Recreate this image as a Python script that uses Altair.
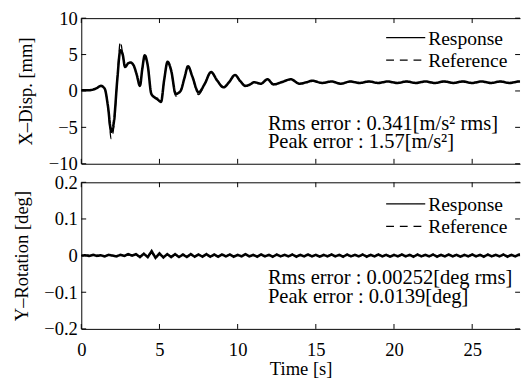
import altair as alt
import pandas as pd

# ---------------- data ----------------
series_names = ["Response", "Reference"]
x_ticks = [0, 5, 10, 15, 20, 25]
top_yticks = [-10, -5, 0, 5, 10]
bot_yticks = [-0.2, -0.1, 0, 0.1, 0.2]

# X-displacement panel (mm)
x_t = [0.0, 0.5, 1.0, 1.25, 1.5, 1.7, 1.92, 2.1, 2.3, 2.5,
       2.65, 2.8, 3.0, 3.15, 3.35, 3.55, 3.75, 3.9, 4.06, 4.25,
       4.48, 4.7, 4.9, 5.1, 5.3, 5.52, 5.75, 6.04, 6.35, 6.6,
       6.83, 7.1, 7.5, 7.9, 8.3, 8.7, 9.1, 9.45, 9.83, 10.15,
       10.5, 10.8, 11.05, 11.5, 11.9, 12.3, 12.8, 13.4, 13.95, 14.4,
       14.8, 15.4, 16.0, 16.6, 17.2, 17.8, 18.4, 19.0, 19.6, 20.2,
       20.8, 21.4, 22.0, 22.6, 23.2, 23.8, 24.4, 25.0, 25.6, 26.2,
       26.8, 27.4, 28.0, 28.6]
x_resp = [0.1, 0.1, 0.4, 0.7, 0.3, -2.0, -5.6, -4.0, 1.5, 5.6,
          5.0, 3.3, 3.8, 3.9, 3.5, 2.2, 0.7, 3.0, 4.9, 3.5,
          -0.4, -0.9, -1.2, -1.5, 1.5, 4.0, 2.8, -0.4, 0.0, 1.8,
          3.4, 2.0, -0.2, 1.0, 2.6, 1.4, 0.5, 1.2, 2.2, 1.4,
          0.7, 0.9, 1.2, 1.0, 1.6, 0.9, 1.2, 1.6, 1.0, 1.2,
          1.4, 1.1, 1.3, 1.0, 1.3, 1.1, 1.3, 1.1, 1.3, 1.1,
          1.3, 1.1, 1.3, 1.1, 1.3, 1.1, 1.3, 1.1, 1.3, 1.1,
          1.3, 1.1, 1.3, 1.2]
x_ref = [0.1, 0.1, 0.4, 0.7, 0.3, -2.0, -6.6, -4.5, 1.5, 6.8,
         5.0, 3.3, 3.8, 3.9, 3.5, 2.2, 0.7, 3.0, 4.6, 3.5,
         -0.4, -0.9, -1.0, -1.5, 1.5, 4.0, 2.8, -0.7, 0.0, 1.8,
         3.4, 2.0, -0.5, 1.0, 2.6, 1.4, 0.5, 1.2, 2.2, 1.4,
         0.7, 0.9, 1.2, 1.0, 1.6, 0.9, 1.2, 1.6, 1.0, 1.2,
         1.4, 1.1, 1.3, 1.0, 1.3, 1.1, 1.3, 1.1, 1.3, 1.1,
         1.3, 1.1, 1.3, 1.1, 1.3, 1.1, 1.3, 1.1, 1.3, 1.1,
         1.3, 1.1, 1.3, 1.2]

# Y-rotation panel (deg)
y_t = [0.0, 0.25, 0.5, 0.75, 1.0, 1.25, 1.5, 1.75, 2.0, 2.25,
       2.5, 2.75, 3.0, 3.25, 3.5, 3.75, 4.0, 4.25, 4.5, 4.75,
       5.0, 5.25, 5.5, 5.75, 6.0, 6.25, 6.5, 6.75, 7.0, 7.25,
       7.5, 7.75, 8.0, 8.25, 8.5, 8.75, 9.0, 9.25, 9.5, 9.75,
       10.0, 10.25, 10.5, 10.75, 11.0, 11.25, 11.5, 11.75, 12.0, 12.25,
       12.5, 12.75, 13.0, 13.25, 13.5, 13.75, 14.0, 14.25, 14.5, 14.75,
       15.0, 15.25, 15.5, 15.75, 16.0, 16.25, 16.5, 16.75, 17.0, 17.25,
       17.5, 17.75, 18.0, 18.25, 18.5, 18.75, 19.0, 19.25, 19.5, 19.75,
       20.0, 20.25, 20.5, 20.75, 21.0, 21.25, 21.5, 21.75, 22.0, 22.25,
       22.5, 22.75, 23.0, 23.25, 23.5, 23.75, 24.0, 24.25, 24.5, 24.75,
       25.0, 25.25, 25.5, 25.75, 26.0, 26.25, 26.5, 26.75, 27.0, 27.25,
       27.5, 27.75, 28.0, 28.25]
y_resp = [0.000, 0.001, -0.001, 0.002, -0.001, 0.001, -0.002, 0.002, 0.000, -0.002,
          0.002, -0.001, 0.004, 0.000, 0.004, -0.004, 0.005, -0.004, 0.012, -0.006,
          0.006, -0.005, 0.004, -0.004, 0.004, -0.004, 0.003, -0.004, 0.004, -0.003,
          0.003, -0.003, 0.004, -0.003, 0.003, -0.003, 0.003, -0.002, 0.003, -0.003,
          0.002, -0.002, 0.004, -0.002, 0.002, -0.003, 0.003, -0.002, 0.002, -0.003,
          0.003, -0.002, 0.002, -0.002, 0.003, -0.003, 0.002, -0.002, 0.003, -0.002,
          0.002, -0.003, 0.002, -0.002, 0.003, -0.002, 0.002, -0.003, 0.003, -0.002,
          0.002, -0.002, 0.003, -0.003, 0.002, -0.002, 0.003, -0.002, 0.002, -0.003,
          0.002, -0.002, 0.003, -0.002, 0.002, -0.003, 0.003, -0.002, 0.002, -0.002,
          0.003, -0.003, 0.002, -0.002, 0.003, -0.002, 0.002, -0.003, 0.002, -0.002,
          0.003, -0.002, 0.002, -0.003, 0.003, -0.002, 0.002, -0.002, 0.003, -0.003,
          0.002, -0.002, 0.003, -0.002]
y_ref = [0.000, 0.000, 0.001, -0.001, 0.001, 0.000, -0.001, 0.001, 0.000, -0.001,
         0.001, 0.000, 0.002, 0.000, 0.002, -0.002, 0.003, -0.002, 0.008, -0.004,
         0.004, -0.003, 0.002, -0.002, 0.002, -0.002, 0.002, -0.002, 0.002, -0.002,
         0.002, -0.001, 0.002, -0.002, 0.001, -0.001, 0.002, -0.001, 0.001, -0.001,
         0.001, -0.001, 0.002, -0.001, 0.001, -0.001, 0.001, -0.001, 0.001, -0.001,
         0.001, -0.001, 0.001, -0.001, 0.001, -0.001, 0.001, -0.001, 0.001, -0.001,
         0.001, -0.001, 0.001, -0.001, 0.001, -0.001, 0.001, -0.001, 0.001, -0.001,
         0.001, -0.001, 0.001, -0.001, 0.001, -0.001, 0.001, -0.001, 0.001, -0.001,
         0.001, -0.001, 0.001, -0.001, 0.001, -0.001, 0.001, -0.001, 0.001, -0.001,
         0.001, -0.001, 0.001, -0.001, 0.001, -0.001, 0.001, -0.001, 0.001, -0.001,
         0.001, -0.001, 0.001, -0.001, 0.001, -0.001, 0.001, -0.001, 0.001, -0.001,
         0.001, -0.001, 0.001, -0.001]

top_notes = ["Rms error : 0.341[m/s\u00b2 rms]", "Peak error : 1.57[m/s\u00b2]"]
bot_notes = ["Rms error : 0.00252[deg rms]", "Peak error : 0.0139[deg]"]

# ---------------- style ----------------
FONT = "Liberation Serif, Times New Roman, Times, serif"
XMAX = 28.06
W = 449
TICK = 5
DASH_SCALE = alt.Scale(domain=series_names, range=[[1, 0], [8, 6]])


def panel(t, resp, ref, ydom, yticks, ytitle, notes, note_y, legend_rows, show_x, h,
          ylabel_expr, interp):
    df = pd.DataFrame({
        "t": list(t) + list(t),
        "v": list(resp) + list(ref),
        "s": ["Response"] * len(t) + ["Reference"] * len(t),
    })
    xs = alt.Scale(domain=[0, XMAX], nice=False, zero=False)
    ys = alt.Scale(domain=ydom, nice=False, zero=False)
    dash = alt.StrokeDash("s:N", scale=DASH_SCALE, legend=None)
    ax_bottom = alt.Axis(
        orient="bottom", values=x_ticks, labels=show_x, title="Time [s]" if show_x else None,
        ticks=False, labelPadding=12, labelFlush=False, titlePadding=1,
        domain=True, grid=False, labelFont=FONT, titleFont=FONT,
    )
    ax_left = alt.Axis(
        orient="left", values=yticks, title=ytitle, ticks=False,
        labelPadding=4, titlePadding=13, domain=True, grid=False,
        labelExpr=ylabel_expr, labelFont=FONT, titleFont=FONT,
    )
    ax_top = alt.Axis(
        orient="top", values=x_ticks, labels=False, title=None,
        ticks=False, domain=True, grid=False,
    )
    base = alt.Chart(df)
    resp_line = base.transform_filter(alt.datum.s == "Response").mark_line(
        color="black", strokeWidth=2.6, clip=True, interpolate=interp
    ).encode(
        x=alt.X("t:Q", scale=xs, axis=ax_bottom),
        y=alt.Y("v:Q", scale=ys, axis=ax_left),
        strokeDash=dash,
    )
    ref_line = base.transform_filter(alt.datum.s == "Reference").mark_line(
        color="black", strokeWidth=1.3, clip=True, interpolate=interp
    ).encode(
        x=alt.X("t:Q", scale=xs, axis=ax_top),
        y=alt.Y("v:Q", scale=ys, axis=None),
        strokeDash=dash,
    )
    # inward tick marks on all four sides, placed by the scales
    xt = alt.Chart(pd.DataFrame({"tick": x_ticks}))
    yt = alt.Chart(pd.DataFrame({"tick": yticks}))
    top_ticks = xt.mark_rule(color="black", strokeWidth=1).encode(
        x=alt.X("tick:Q", scale=xs, axis=None), y=alt.value(0), y2=alt.value(TICK))
    bot_ticks = xt.mark_rule(color="black", strokeWidth=1).encode(
        x=alt.X("tick:Q", scale=xs, axis=None), y=alt.value(h - TICK), y2=alt.value(h))
    left_ticks = yt.mark_rule(color="black", strokeWidth=1).encode(
        y=alt.Y("tick:Q", scale=ys, axis=None), x=alt.value(0), x2=alt.value(TICK))
    right_ticks = yt.mark_rule(color="black", strokeWidth=1).encode(
        y=alt.Y("tick:Q", scale=ys, axis=None), x=alt.value(W - TICK), x2=alt.value(W))
    layers = [resp_line, ref_line, top_ticks, bot_ticks, left_ticks, right_ticks]
    # legend: line samples and labels
    for name, yy in zip(series_names, legend_rows):
        ldf = pd.DataFrame({"s": [name]})
        layers.append(
            alt.Chart(ldf).mark_rule(color="black", strokeWidth=1.3).encode(
                x=alt.value(312), x2=alt.value(352), y=alt.value(yy), strokeDash=dash)
        )
        layers.append(
            alt.Chart(ldf).mark_text(
                align="left", baseline="middle", font=FONT, fontSize=20, color="black"
            ).encode(x=alt.value(355), y=alt.value(yy + 1), text="s:N")
        )
    for txt, yy in zip(notes, note_y):
        layers.append(
            alt.Chart(pd.DataFrame({"txt": [txt]})).mark_text(
                align="left", baseline="alphabetic", font=FONT, fontSize=21, color="black"
            ).encode(x=alt.value(191), y=alt.value(yy), text="txt:N")
        )
    return alt.layer(*layers).resolve_axis(x="independent", y="independent").properties(
        width=W, height=h
    )


top = panel(x_t, x_resp, x_ref, [-10, 10], top_yticks, "X\u2013Disp. [mm]",
            top_notes, [114, 133], [20, 43], False, 149, "format(datum.value, 'd')",
            "monotone")
bottom = panel(y_t, y_resp, y_ref, [-0.2, 0.2], bot_yticks, "Y\u2013Rotation [deg]",
               bot_notes, [104, 124], [22, 45], True, 150,
               "datum.value == 0 ? '0' : format(datum.value, '.1f')", "linear")

chart = alt.vconcat(top, bottom, spacing=19, bounds="flush").properties(
    padding={"left": 4, "top": -4, "right": 0, "bottom": 0}
).configure_view(stroke="transparent").configure_axis(
    labelFont=FONT, labelFontSize=19, labelColor="black",
    titleFont=FONT, titleFontSize=19, titleFontWeight="normal", titleColor="black",
    domainColor="black", domainWidth=1,
)

chart.save("out.html", embed_options={"renderer": "svg", "actions": False})
